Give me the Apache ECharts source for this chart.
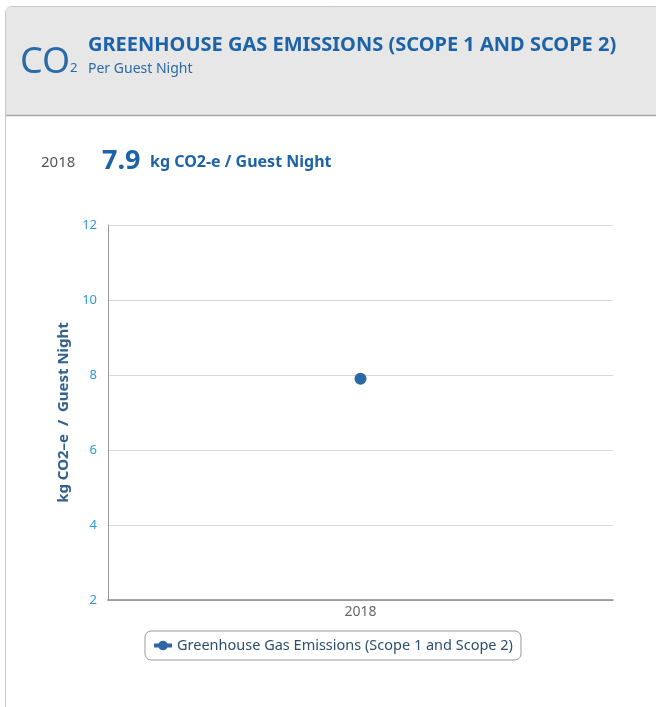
<!DOCTYPE html>
<html><head><meta charset="utf-8">
<script src="https://cdn.jsdelivr.net/npm/echarts@6/dist/echarts.min.js"></script>
<style>html,body{margin:0;padding:0;background:#fff}#c{width:656px;height:707px}</style>
</head><body><div id="c"></div>
<script>
const categories = ['2018'];
const seriesName = 'Greenhouse Gas Emissions (Scope 1 and Scope 2)';
const values = [7.9];
const yTicks = { min: 2, max: 12, interval: 2 };
const headline = { year: '2018', value: '7.9', unit: 'kg CO2-e / Guest Night' };

const chart = echarts.init(document.getElementById('c'), null, { renderer: 'canvas' });
const FONT = '"Noto Sans", "Open Sans", sans-serif';
chart.setOption({
  animation: false,
  backgroundColor: '#fff',
  graphic: [
    { type: 'rect', z: 0, shape: { x: 5.5, y: 6.5, width: 700, height: 760, r: [6, 0, 0, 0] },
      style: { fill: '#fff', stroke: '#c8c8c8', lineWidth: 1 } },
    { type: 'rect', z: 1, shape: { x: 6, y: 7, width: 700, height: 108, r: [5, 0, 0, 0] },
      style: { fill: '#e7e7e7' } },
    { type: 'line', z: 2, shape: { x1: 6, y1: 115.5, x2: 656, y2: 115.5 }, style: { stroke: '#a9a9a9', lineWidth: 1.5 } },
    { type: 'text', z: 3, left: 20, top: 45, style: { text: 'CO', font: '36px ' + FONT, fill: '#2a6aa6' } },
    { type: 'text', z: 3, left: 70, top: 62, style: { text: '2', font: '13px ' + FONT, fill: '#2a6aa6' } },
    { type: 'text', z: 3, left: 88, top: 35, style: { text: 'GREENHOUSE GAS EMISSIONS (SCOPE 1 AND SCOPE 2)', font: 'bold 20px ' + FONT, fill: '#1d63a8' } },
    { type: 'text', z: 3, left: 88, top: 62, style: { text: 'Per Guest Night', font: '14px ' + FONT, fill: '#2a6aa6' } },
    { type: 'text', z: 3, left: 41, top: 155, style: { text: headline.year, font: '15px ' + FONT, fill: '#555' } },
    { type: 'text', z: 3, left: 102, top: 148, style: { text: headline.value, font: 'bold 27px ' + FONT, fill: '#1d63a8' } },
    { type: 'text', z: 3, left: 150, top: 154, style: { text: headline.unit, font: 'bold 16px ' + FONT, fill: '#1d63a8' } }
  ],
  grid: { left: 108, top: 225, right: 43, bottom: 107, containLabel: false },
  xAxis: {
    type: 'category', data: categories, boundaryGap: true,
    axisLine: { show: true, lineStyle: { color: '#888', width: 1.5 } },
    axisTick: { show: false },
    axisLabel: { color: '#666', fontSize: 14, fontFamily: FONT, margin: 5 },
    splitLine: { show: false }
  },
  yAxis: {
    type: 'value', min: yTicks.min, max: yTicks.max, interval: yTicks.interval,
    name: 'kg CO2–e  /  Guest Night', nameLocation: 'middle', nameRotate: 90, nameGap: 31,
    nameTextStyle: { color: '#31618f', fontSize: 15, fontWeight: 'bold', fontFamily: FONT },
    axisLine: { show: true, lineStyle: { color: '#999', width: 1 } },
    axisTick: { show: false },
    axisLabel: { color: '#2e9bd6', fontSize: 13, fontFamily: FONT, margin: 11 },
    splitLine: { show: true, lineStyle: { color: '#d9d9d9', width: 1 } }
  },
  legend: {
    data: [seriesName], top: 631, left: 145,
    borderColor: '#999', borderWidth: 1, borderRadius: 6, padding: [7, 8, 7, 7],
    itemWidth: 18, itemHeight: 12, itemGap: 10,
    lineStyle: { width: 4 },
    textStyle: { color: '#2b4f70', fontSize: 14.5, fontFamily: FONT }
  },
  series: [{
    name: seriesName, type: 'line', data: values,
    symbol: 'circle', symbolSize: 12, showSymbol: true,
    itemStyle: { color: '#2e68a4' }, lineStyle: { color: '#2e68a4', width: 2 }
  }]
});
</script></body></html>
